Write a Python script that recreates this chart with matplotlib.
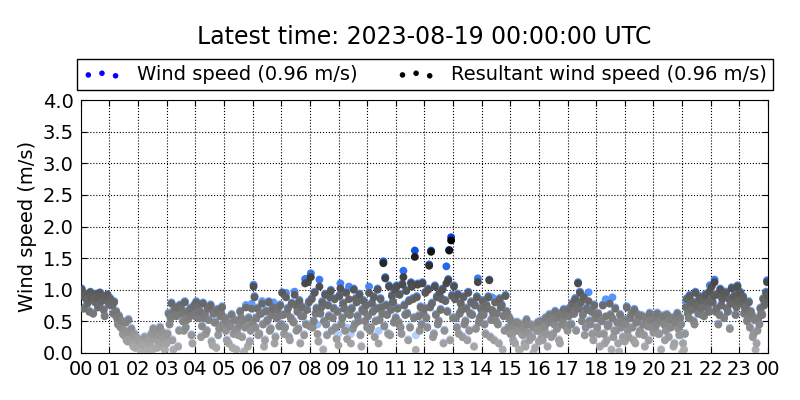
import matplotlib
matplotlib.use("Agg")
import matplotlib.pyplot as plt
import matplotlib.dates as mdates
from matplotlib.colors import LinearSegmentedColormap
import numpy as np
import pandas as pd

# Readings at 2-minute steps, one row per hour. Each hour is stored as
# 20 "main" readings plus 10 "between" readings (every third sample).
speed_main = [
    [1.02, 0.96, 0.90, 0.93, 0.80, 0.86, 0.97, 0.91, 0.64, 0.85, 0.94, 0.89, 0.77, 0.96, 0.83, 0.91, 0.60, 0.87, 0.93, 0.82],
    [0.87, 0.80, 0.64, 0.82, 0.67, 0.57, 0.60, 0.44, 0.52, 0.32, 0.37, 0.50, 0.20, 0.54, 0.24, 0.40, 0.12, 0.32, 0.27, 0.14],
    [0.22, 0.10, 0.17, 0.04, 0.27, 0.12, 0.07, 0.20, 0.14, 0.32, 0.40, 0.24, 0.37, 0.10, 0.30, 0.42, 0.17, 0.34, 0.07, 0.27],
    [0.32, 0.64, 0.57, 0.80, 0.07, 0.70, 0.60, 0.74, 0.37, 0.77, 0.64, 0.52, 0.82, 0.42, 0.67, 0.57, 0.72, 0.30, 0.62, 0.77],
    [0.82, 0.74, 0.57, 0.67, 0.44, 0.80, 0.62, 0.32, 0.72, 0.54, 0.77, 0.20, 0.64, 0.50, 0.10, 0.70, 0.40, 0.60, 0.74, 0.47],
    [0.57, 0.37, 0.50, 0.17, 0.44, 0.62, 0.32, 0.54, 0.07, 0.40, 0.47, 0.67, 0.27, 0.52, 0.42, 0.76, 0.12, 0.57, 0.37, 0.78],
    [1.08, 0.90, 0.57, 0.72, 0.32, 0.64, 0.82, 0.47, 0.22, 0.68, 0.54, 0.82, 0.40, 0.62, 0.80, 0.17, 0.57, 0.70, 0.44, 0.77],
    [0.96, 0.62, 0.42, 0.95, 0.72, 0.27, 0.57, 0.80, 0.50, 0.97, 0.37, 0.67, 0.84, 0.17, 0.74, 0.60, 1.17, 0.47, 1.18, 0.82],
    [1.26, 0.87, 0.52, 0.97, 0.72, 0.45, 1.16, 0.64, 0.82, 0.07, 0.94, 0.47, 0.77, 0.60, 1.00, 0.37, 0.72, 0.87, 0.24, 0.67],
    [0.92, 1.10, 0.57, 0.80, 0.37, 0.97, 0.64, 1.05, 0.30, 0.72, 1.02, 0.47, 0.82, 0.60, 0.94, 0.30, 0.70, 0.84, 0.52, 0.77],
    [0.60, 1.05, 0.42, 0.80, 0.90, 0.27, 0.72, 1.02, 0.54, 0.87, 0.64, 1.45, 1.20, 0.77, 0.32, 1.07, 0.70, 0.92, 0.50, 1.02],
    [1.07, 0.72, 0.94, 0.42, 1.10, 1.30, 0.62, 1.00, 0.22, 0.84, 1.12, 1.07, 0.57, 1.62, 0.90, 1.10, 0.37, 0.74, 1.12, 0.64],
    [0.97, 0.57, 1.02, 1.40, 1.62, 0.80, 0.32, 1.07, 0.90, 0.47, 0.97, 0.70, 1.02, 0.17, 0.84, 1.37, 1.17, 1.63, 1.83, 0.92],
    [1.07, 0.87, 0.42, 0.94, 0.64, 0.80, 0.27, 0.90, 0.52, 0.72, 0.97, 0.37, 0.82, 0.62, 0.12, 0.77, 0.90, 1.18, 0.57, 0.72],
    [0.84, 0.62, 0.32, 0.77, 0.90, 1.16, 0.54, 0.88, 0.22, 0.85, 0.64, 0.47, 0.87, 0.74, 0.07, 0.60, 0.92, 0.67, 0.42, 0.57],
    [0.52, 0.32, 0.44, 0.17, 0.50, 0.37, 0.07, 0.47, 0.30, 0.40, 0.12, 0.54, 0.34, 0.22, 0.46, 0.27, 0.42, 0.10, 0.37, 0.50],
    [0.37, 0.52, 0.22, 0.44, 0.57, 0.32, 0.50, 0.62, 0.27, 0.54, 0.47, 0.67, 0.40, 0.60, 0.17, 0.64, 0.52, 0.70, 0.44, 0.68],
    [0.60, 0.72, 0.47, 0.80, 0.64, 0.87, 0.74, 1.12, 0.97, 0.82, 0.62, 0.90, 0.42, 0.72, 0.96, 0.52, 0.67, 0.32, 0.77, 0.57],
    [0.42, 0.64, 0.12, 0.54, 0.77, 0.32, 0.85, 0.22, 0.47, 0.80, 0.07, 0.88, 0.37, 0.72, 0.50, 0.17, 0.62, 0.42, 0.27, 0.54],
    [0.47, 0.74, 0.27, 0.57, 0.64, 0.42, 0.70, 0.17, 0.52, 0.62, 0.37, 0.60, 0.47, 0.30, 0.57, 0.50, 0.22, 0.64, 0.42, 0.54],
    [0.57, 0.42, 0.64, 0.32, 0.52, 0.07, 0.60, 0.47, 0.37, 0.62, 0.27, 0.54, 0.44, 0.57, 0.17, 0.50, 0.64, 0.40, 0.57, 0.47],
    [0.17, 0.07, 0.80, 0.87, 0.57, 0.92, 0.70, 0.82, 0.47, 0.97, 0.77, 0.64, 0.90, 0.72, 0.84, 0.60, 0.94, 0.80, 0.67, 1.07],
    [1.07, 0.82, 1.16, 0.67, 0.94, 0.47, 1.02, 0.77, 0.90, 0.57, 0.97, 0.72, 0.87, 0.40, 1.04, 0.80, 0.92, 0.62, 1.07, 0.84],
    [0.97, 0.80, 0.90, 0.64, 0.74, 0.52, 0.82, 0.42, 0.62, 0.27, 0.54, 0.07, 0.37, 0.57, 0.72, 0.64, 0.87, 0.77, 0.97, 1.15],
]

speed_between = [
    [0.72, 0.87, 0.67, 0.92, 0.82, 0.74, 0.90, 0.70, 0.85, 0.78],
    [0.77, 0.62, 0.47, 0.42, 0.30, 0.22, 0.34, 0.17, 0.10, 0.24],
    [0.04, 0.14, 0.02, 0.22, 0.07, 0.32, 0.20, 0.12, 0.24, 0.17],
    [0.47, 0.22, 0.62, 0.12, 0.72, 0.37, 0.54, 0.67, 0.17, 0.60],
    [0.67, 0.27, 0.57, 0.37, 0.72, 0.14, 0.50, 0.30, 0.64, 0.42],
    [0.22, 0.47, 0.10, 0.37, 0.30, 0.57, 0.04, 0.44, 0.20, 0.50],
    [0.42, 0.30, 0.64, 0.12, 0.52, 0.37, 0.72, 0.27, 0.60, 0.47],
    [0.32, 0.64, 0.22, 0.52, 0.77, 0.40, 0.60, 0.30, 0.70, 0.44],
    [0.42, 0.64, 0.20, 0.74, 0.52, 0.30, 0.90, 0.57, 0.42, 0.30],
    [0.47, 0.72, 0.40, 0.62, 0.40, 0.87, 0.52, 0.12, 0.67, 0.42],
    [0.37, 0.67, 0.52, 0.35, 0.74, 0.44, 0.62, 0.30, 0.82, 0.57],
    [0.50, 0.32, 0.77, 0.64, 0.42, 0.87, 0.28, 0.60, 0.47, 0.72],
    [0.42, 0.74, 0.27, 0.62, 0.52, 0.87, 0.37, 0.67, 0.22, 0.57],
    [0.57, 0.32, 0.70, 0.47, 0.22, 0.64, 0.80, 0.40, 0.50, 0.62],
    [0.47, 0.72, 0.27, 0.64, 0.52, 0.17, 0.77, 0.37, 0.62, 0.32],
    [0.22, 0.42, 0.07, 0.32, 0.17, 0.47, 0.27, 0.02, 0.40, 0.20],
    [0.27, 0.42, 0.12, 0.52, 0.32, 0.57, 0.22, 0.47, 0.62, 0.37],
    [0.47, 0.64, 0.37, 0.72, 0.52, 0.30, 0.70, 0.47, 0.22, 0.64],
    [0.32, 0.52, 0.17, 0.44, 0.62, 0.27, 0.37, 0.04, 0.50, 0.20],
    [0.37, 0.57, 0.22, 0.50, 0.32, 0.60, 0.12, 0.44, 0.54, 0.34],
    [0.47, 0.32, 0.54, 0.22, 0.60, 0.42, 0.12, 0.52, 0.30, 0.02],
    [0.32, 0.64, 0.80, 0.52, 0.74, 0.87, 0.62, 0.92, 0.72, 0.84],
    [0.92, 0.72, 0.62, 0.87, 0.97, 0.67, 0.80, 0.90, 0.74, 0.97],
    [0.87, 0.72, 0.57, 0.67, 0.32, 0.17, 0.47, 0.62, 0.82, 0.92],
]

resultant_main = [
    [1.00, 0.95, 0.88, 0.92, 0.78, 0.85, 0.96, 0.90, 0.62, 0.84, 0.93, 0.88, 0.75, 0.95, 0.82, 0.90, 0.58, 0.86, 0.92, 0.80],
    [0.85, 0.78, 0.62, 0.80, 0.65, 0.55, 0.58, 0.42, 0.50, 0.30, 0.35, 0.48, 0.18, 0.52, 0.22, 0.38, 0.10, 0.30, 0.25, 0.12],
    [0.20, 0.08, 0.15, 0.02, 0.25, 0.10, 0.05, 0.18, 0.12, 0.30, 0.38, 0.22, 0.35, 0.08, 0.28, 0.40, 0.15, 0.32, 0.05, 0.25],
    [0.30, 0.62, 0.55, 0.78, 0.05, 0.68, 0.58, 0.72, 0.35, 0.75, 0.62, 0.50, 0.80, 0.40, 0.65, 0.55, 0.70, 0.28, 0.60, 0.75],
    [0.80, 0.72, 0.55, 0.65, 0.42, 0.78, 0.60, 0.30, 0.70, 0.52, 0.75, 0.18, 0.62, 0.48, 0.08, 0.68, 0.38, 0.58, 0.72, 0.45],
    [0.55, 0.35, 0.48, 0.15, 0.42, 0.60, 0.30, 0.52, 0.05, 0.38, 0.45, 0.65, 0.25, 0.50, 0.40, 0.72, 0.10, 0.55, 0.35, 0.70],
    [1.05, 0.88, 0.55, 0.70, 0.30, 0.62, 0.78, 0.45, 0.20, 0.66, 0.52, 0.80, 0.38, 0.60, 0.72, 0.15, 0.55, 0.68, 0.42, 0.75],
    [0.95, 0.60, 0.40, 0.88, 0.70, 0.25, 0.55, 0.78, 0.48, 0.92, 0.35, 0.65, 0.82, 0.15, 0.72, 0.58, 1.10, 0.45, 1.12, 0.80],
    [1.20, 0.85, 0.50, 0.95, 0.70, 0.30, 1.05, 0.62, 0.80, 0.05, 0.92, 0.45, 0.75, 0.58, 0.98, 0.35, 0.70, 0.85, 0.22, 0.65],
    [0.90, 1.02, 0.55, 0.78, 0.35, 0.95, 0.62, 0.85, 0.15, 0.70, 1.00, 0.45, 0.80, 0.58, 0.92, 0.28, 0.68, 0.82, 0.50, 0.75],
    [0.58, 0.95, 0.40, 0.78, 0.88, 0.25, 0.70, 1.00, 0.52, 0.85, 0.62, 1.42, 1.18, 0.75, 0.30, 1.05, 0.68, 0.90, 0.48, 1.00],
    [1.05, 0.70, 0.92, 0.40, 1.08, 1.20, 0.60, 0.98, 0.20, 0.82, 1.10, 1.05, 0.55, 1.52, 0.88, 1.08, 0.35, 0.72, 1.10, 0.62],
    [0.95, 0.55, 1.00, 1.38, 1.60, 0.78, 0.30, 1.05, 0.88, 0.45, 0.95, 0.68, 1.00, 0.15, 0.82, 1.10, 1.15, 1.62, 1.78, 0.90],
    [1.05, 0.85, 0.40, 0.92, 0.62, 0.78, 0.25, 0.88, 0.50, 0.70, 0.95, 0.35, 0.80, 0.60, 0.10, 0.75, 0.88, 1.12, 0.55, 0.70],
    [0.82, 0.60, 0.30, 0.75, 0.88, 1.15, 0.52, 0.68, 0.20, 0.80, 0.62, 0.45, 0.85, 0.72, 0.05, 0.58, 0.90, 0.65, 0.40, 0.55],
    [0.50, 0.30, 0.42, 0.15, 0.48, 0.35, 0.05, 0.45, 0.28, 0.38, 0.10, 0.52, 0.32, 0.20, 0.44, 0.25, 0.40, 0.08, 0.35, 0.48],
    [0.35, 0.50, 0.20, 0.42, 0.55, 0.30, 0.48, 0.60, 0.25, 0.52, 0.45, 0.65, 0.38, 0.58, 0.15, 0.62, 0.50, 0.68, 0.42, 0.66],
    [0.58, 0.70, 0.45, 0.78, 0.62, 0.85, 0.72, 1.10, 0.95, 0.80, 0.60, 0.88, 0.40, 0.70, 0.82, 0.50, 0.65, 0.30, 0.75, 0.55],
    [0.40, 0.62, 0.10, 0.52, 0.75, 0.30, 0.58, 0.20, 0.45, 0.78, 0.05, 0.55, 0.35, 0.70, 0.48, 0.15, 0.60, 0.40, 0.25, 0.52],
    [0.45, 0.72, 0.25, 0.55, 0.62, 0.40, 0.68, 0.15, 0.50, 0.60, 0.35, 0.58, 0.45, 0.28, 0.55, 0.48, 0.20, 0.62, 0.40, 0.52],
    [0.55, 0.40, 0.62, 0.30, 0.50, 0.05, 0.58, 0.45, 0.35, 0.60, 0.25, 0.52, 0.42, 0.55, 0.15, 0.48, 0.62, 0.38, 0.55, 0.45],
    [0.15, 0.05, 0.72, 0.85, 0.55, 0.90, 0.68, 0.80, 0.45, 0.95, 0.75, 0.62, 0.88, 0.70, 0.82, 0.58, 0.92, 0.78, 0.65, 0.98],
    [1.05, 0.80, 1.12, 0.65, 0.92, 0.45, 1.00, 0.75, 0.88, 0.55, 0.95, 0.70, 0.85, 0.38, 1.02, 0.78, 0.90, 0.60, 1.05, 0.82],
    [0.95, 0.78, 0.88, 0.62, 0.72, 0.50, 0.80, 0.40, 0.60, 0.25, 0.52, 0.05, 0.35, 0.55, 0.70, 0.62, 0.85, 0.75, 0.95, 1.12],
]

resultant_between = [
    [0.70, 0.85, 0.65, 0.90, 0.80, 0.72, 0.88, 0.68, 0.83, 0.76],
    [0.75, 0.60, 0.45, 0.40, 0.28, 0.20, 0.32, 0.15, 0.08, 0.22],
    [0.02, 0.12, 0.00, 0.20, 0.05, 0.30, 0.18, 0.10, 0.22, 0.15],
    [0.45, 0.20, 0.60, 0.10, 0.70, 0.35, 0.52, 0.65, 0.15, 0.58],
    [0.65, 0.25, 0.55, 0.35, 0.70, 0.12, 0.48, 0.28, 0.62, 0.40],
    [0.20, 0.45, 0.08, 0.35, 0.28, 0.55, 0.02, 0.42, 0.18, 0.48],
    [0.40, 0.28, 0.62, 0.10, 0.50, 0.35, 0.70, 0.25, 0.58, 0.45],
    [0.30, 0.62, 0.20, 0.50, 0.75, 0.38, 0.58, 0.28, 0.68, 0.42],
    [0.40, 0.62, 0.18, 0.72, 0.50, 0.28, 0.88, 0.55, 0.40, 0.12],
    [0.45, 0.70, 0.22, 0.60, 0.38, 0.85, 0.50, 0.10, 0.65, 0.40],
    [0.35, 0.65, 0.50, 0.15, 0.72, 0.42, 0.60, 0.28, 0.80, 0.55],
    [0.48, 0.30, 0.75, 0.62, 0.40, 0.85, 0.05, 0.58, 0.45, 0.70],
    [0.40, 0.72, 0.25, 0.60, 0.50, 0.85, 0.35, 0.65, 0.20, 0.55],
    [0.55, 0.30, 0.68, 0.45, 0.20, 0.62, 0.78, 0.38, 0.48, 0.60],
    [0.45, 0.70, 0.25, 0.62, 0.50, 0.15, 0.75, 0.35, 0.60, 0.30],
    [0.20, 0.40, 0.05, 0.30, 0.15, 0.45, 0.25, 0.00, 0.38, 0.18],
    [0.25, 0.40, 0.10, 0.50, 0.30, 0.55, 0.20, 0.45, 0.60, 0.35],
    [0.45, 0.62, 0.35, 0.70, 0.50, 0.28, 0.68, 0.45, 0.20, 0.62],
    [0.30, 0.50, 0.15, 0.42, 0.60, 0.25, 0.35, 0.02, 0.48, 0.18],
    [0.35, 0.55, 0.20, 0.48, 0.30, 0.58, 0.10, 0.42, 0.52, 0.32],
    [0.45, 0.30, 0.52, 0.20, 0.58, 0.40, 0.10, 0.50, 0.28, 0.00],
    [0.30, 0.62, 0.78, 0.50, 0.72, 0.85, 0.60, 0.90, 0.70, 0.82],
    [0.90, 0.70, 0.60, 0.85, 0.95, 0.65, 0.78, 0.88, 0.72, 0.95],
    [0.85, 0.70, 0.55, 0.65, 0.30, 0.15, 0.45, 0.60, 0.80, 0.90],
]

latest = "2023-08-19 00:00:00"
latest_speed = 0.96
latest_resultant = 0.96


def merge(main, between):
    # put one "between" reading after every pair of main readings
    slots = list(range(2, 21, 2))
    return np.concatenate([np.insert(m, slots, b) for m, b in zip(main, between)])


ws = merge(speed_main, speed_between)
rws = merge(resultant_main, resultant_between)
times = pd.date_range(end=latest, periods=len(ws), freq="2min")

blues = LinearSegmentedColormap.from_list(
    "wsblue", [(0.0, "#e0ebff"), (0.4, "#5c9bff"), (0.9, "#0040e0"), (1.0, "#0030c0")])
greys = LinearSegmentedColormap.from_list(
    "wsgrey", [(0.0, "#b0b0b0"), (0.5, "#555555"), (0.9, "#000000"), (1.0, "#000000")])

fig = plt.figure(figsize=(8, 4), dpi=100)
ax = fig.add_axes([0.101, 0.1175, 0.859, 0.6325])

ax.scatter(times, ws, c=ws, cmap=blues, vmin=0, vmax=2, s=32, linewidths=0, zorder=2)
ax.scatter(times, rws, c=rws, cmap=greys, vmin=0, vmax=2, s=32, linewidths=0, zorder=3)

# legend proxies (plain colours, like the original)
h_ws = ax.scatter([], [], color="blue", s=16, linewidths=0)
h_rws = ax.scatter([], [], color="black", s=16, linewidths=0)

ax.set_ylim(0, 4)
ax.set_yticks(np.arange(0, 4.01, 0.5))
ax.set_xlim(pd.Timestamp("2023-08-18 00:00"), pd.Timestamp(latest))
ax.xaxis.set_major_locator(mdates.HourLocator())
ax.xaxis.set_major_formatter(mdates.DateFormatter("%H"))
ax.tick_params(direction="in", top=True, right=True, labelsize=14, length=4, pad=5)
ax.grid(True, color="black", linestyle=":", linewidth=0.8)
ax.set_axisbelow(True)

ax.set_ylabel("Wind speed (m/s)", fontsize=14)
ax.set_title("Latest time: %s UTC" % latest, fontsize=17, pad=40)

leg = ax.legend([h_ws, h_rws],
                ["Wind speed (%.2f m/s)" % latest_speed,
                 "Resultant wind speed (%.2f m/s)" % latest_resultant],
                loc="lower left", bbox_to_anchor=(-0.006, 1.04, 1.013, 0.1),
                mode="expand", ncol=2, fontsize=14, fancybox=False,
                edgecolor="black", framealpha=1, borderaxespad=0,
                scatterpoints=3, handletextpad=0.8, borderpad=0.3)
leg.get_frame().set_linewidth(1.0)

fig.savefig("out.png", dpi=100)
